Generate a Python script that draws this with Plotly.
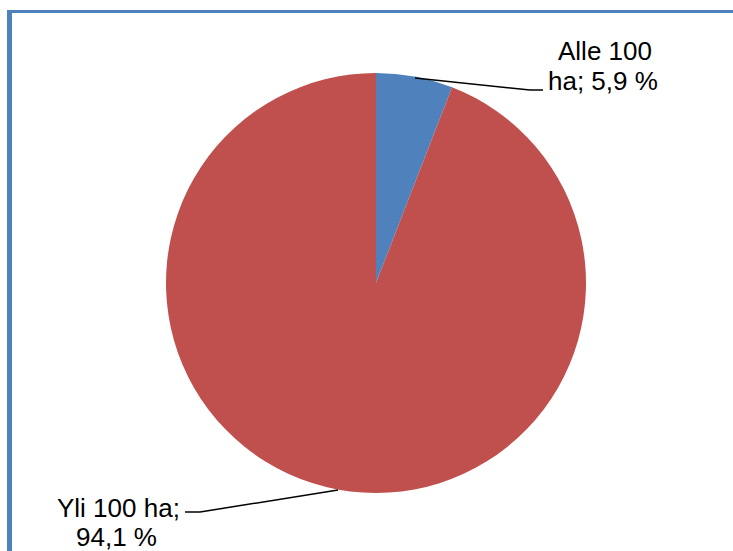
import plotly.graph_objects as go

categories = ["Alle 100 ha", "Yli 100 ha"]
shares = [5.9, 94.1]
colors = ["#4F81BD", "#C0504D"]

W, H = 733, 551


def px(x, y):
    # pixel position -> paper coords
    return x / W, 1 - y / H


def label_lines(cat, val):
    text = f"{cat}; {val:.1f} %".replace(".", ",")
    words = text.split(" ")
    if cat.startswith("Alle"):
        return [" ".join(words[:2]), " ".join(words[2:])]
    return [" ".join(words[:3]), " ".join(words[3:])]


fig = go.Figure(go.Pie(
    labels=categories,
    values=shares,
    marker=dict(colors=colors, line=dict(width=0)),
    sort=False,
    direction="clockwise",
    rotation=0,
    textinfo="none",
    hoverinfo="label+percent",
    domain=dict(x=[166 / W, 586 / W], y=[1 - 493 / H, 1 - 73 / H]),
    showlegend=False,
))

# label placement (pixel centres of each text line)
label_pos = [[(605, 51), (603, 81)], [(118, 508), (117, 537)]]
for cat, val, pos in zip(categories, shares, label_pos):
    for line, (x, y) in zip(label_lines(cat, val), pos):
        ax, ay = px(x, y)
        fig.add_annotation(x=ax, y=ay, xref="paper", yref="paper", text=line,
                           showarrow=False, xanchor="center", yanchor="middle",
                           font=dict(family="Liberation Sans, Arial", size=26, color="#000000"))

# leader lines
leaders = [[(415, 78), (530, 90), (543, 90)], [(185, 512), (200, 512), (338, 490)]]
for pts in leaders:
    for (x0, y0), (x1, y1) in zip(pts[:-1], pts[1:]):
        a0, b0 = px(x0, y0)
        a1, b1 = px(x1, y1)
        fig.add_shape(type="line", xref="paper", yref="paper", x0=a0, y0=b0, x1=a1, y1=b1,
                      line=dict(color="#000000", width=1.5))

# frame (left and top border)
fig.add_shape(type="rect", xref="paper", yref="paper", x0=7 / W, x1=12 / W, y0=0, y1=1 - 10 / H,
              line=dict(width=0), fillcolor="#4F81BD")
fig.add_shape(type="rect", xref="paper", yref="paper", x0=7 / W, x1=1, y0=1 - 13 / H, y1=1 - 10 / H,
              line=dict(width=0), fillcolor="#4F81BD")

fig.update_layout(
    width=W, height=H,
    margin=dict(l=0, r=0, t=0, b=0),
    paper_bgcolor="white",
    plot_bgcolor="white",
)

fig.write_html("out.html", config={"displayModeBar": False},
               post_script="document.body.style.margin='0';")
